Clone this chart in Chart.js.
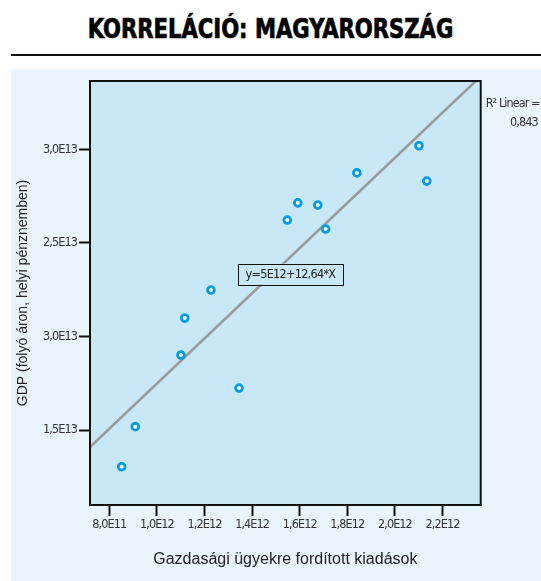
<!DOCTYPE html>
<html>
<head>
<meta charset="utf-8">
<script src="https://cdn.jsdelivr.net/npm/chart.js@4.4.0/dist/chart.umd.min.js"></script>
<style>
  html, body { margin: 0; padding: 0; background: #fff; }
  body { width: 541px; height: 581px; position: relative; overflow: hidden; }
  #cim {
    position: absolute; left: 0; top: 11px; width: 541px; text-align: center;
    font-family: "DejaVu Sans Condensed", "Liberation Sans Narrow", sans-serif;
    font-weight: bold; font-size: 27px; line-height: 36px; color: #000;
    -webkit-text-stroke: 0.7px #000;
    transform: scaleX(0.87); transform-origin: 270.5px 0;
  }
  #vonal { position: absolute; left: 11px; top: 54px; width: 530px; height: 2px; background: #111; }
  #panel { position: absolute; left: 11px; top: 69px; width: 530px; height: 512px; background: #eaf4fb; }
  canvas { position: absolute; left: 0; top: 0; }
</style>
</head>
<body>
<div id="cim">KORRELÁCIÓ: MAGYARORSZÁG</div>
<div id="vonal"></div>
<div id="panel"><canvas id="grafikon" width="530" height="512"></canvas></div>
<script>
// Adatok (leolvasva az ábráról)
const kiadasok = [0.852e12, 0.909e12, 1.101e12, 1.117e12, 1.227e12, 1.345e12, 1.548e12,
                  1.592e12, 1.676e12, 1.709e12, 1.840e12, 2.101e12, 2.134e12];
const gdp = [1.304e13, 1.518e13, 1.901e13, 2.098e13, 2.248e13, 1.724e13, 2.622e13,
             2.714e13, 2.702e13, 2.574e13, 2.874e13, 3.019e13, 2.830e13];

// Illesztett egyenes végpontjai
const egyenesX = [0.719e12, 2.340e12];
const egyenesY = [1.409e13, 3.365e13];

// Tengelyek
const xTickErtekek = [0.8e12, 1.0e12, 1.2e12, 1.4e12, 1.6e12, 1.8e12, 2.0e12, 2.2e12];
const xTickCimkek = ['8,0E11', '1,0E12', '1,2E12', '1,4E12', '1,6E12', '1,8E12', '2,0E12', '2,2E12'];
const yTickErtekek = [1.5e13, 2.0e13, 2.5e13, 3.0e13];
const yTickCimkek = ['1,5E13', '3,0E13', '2,5E13', '3,0E13'];

const egyenlet = 'y=5E12+12,64*X';
const r2Szoveg = ['R\u00b2 Linear =', '0,843'];
const egyenletHely = { x: 1.561e12, y: 2.333e13 };

const keskeny = '"DejaVu Sans Condensed", "Liberation Sans Narrow", sans-serif';

const pontok = kiadasok.map((x, i) => ({ x: x, y: gdp[i] }));
const egyenes = egyenesX.map((x, i) => ({ x: x, y: egyenesY[i] }));

// Háttér, keret, feliratok
const rajzolo = {
  id: 'rajzolo',
  beforeDraw(chart) {
    chart.ctx.letterSpacing = '0px';
  },
  beforeDatasetsDraw(chart) {
    const { ctx, chartArea: a } = chart;
    ctx.save();
    ctx.fillStyle = '#c8e7f7';
    ctx.fillRect(a.left, a.top, a.right - a.left, a.bottom - a.top);
    ctx.restore();
  },
  afterDatasetsDraw(chart) {
    const { ctx, chartArea: a, scales } = chart;
    ctx.save();
    // egyenlet doboz
    ctx.font = '12.5px ' + keskeny;
    ctx.letterSpacing = '-0.7px';
    const cx = scales.x.getPixelForValue(egyenletHely.x);
    const cy = scales.y.getPixelForValue(egyenletHely.y);
    const w = 105, h = 21;
    ctx.fillStyle = '#c8e7f7';
    ctx.fillRect(cx - w / 2, cy - h / 2, w, h);
    ctx.strokeStyle = '#111';
    ctx.lineWidth = 1;
    ctx.strokeRect(Math.round(cx - w / 2) + 0.5, Math.round(cy - h / 2) + 0.5, w, h);
    ctx.fillStyle = '#222';
    ctx.textAlign = 'center';
    ctx.textBaseline = 'middle';
    ctx.fillText(egyenlet, cx, cy + 1);
    // keret
    ctx.strokeStyle = '#111';
    ctx.lineWidth = 2;
    ctx.strokeRect(a.left, a.top, a.right - a.left, a.bottom - a.top);
    // R2
    ctx.letterSpacing = '-0.9px';
    ctx.fillStyle = '#333';
    ctx.textAlign = 'left';
    ctx.fillText(r2Szoveg[0], a.right + 5, a.top + 23);
    ctx.textAlign = 'right';
    ctx.fillText(r2Szoveg[1], a.right + 57, a.top + 42);
    ctx.restore();
    // keskenyebb tengelyfeliratok
    ctx.letterSpacing = '-0.9px';
  },
  afterDraw(chart) {
    chart.ctx.letterSpacing = '0px';
  }
};

new Chart(document.getElementById('grafikon'), {
  type: 'scatter',
  data: {
    datasets: [
      {
        label: 'Linear',
        type: 'line',
        data: egyenes,
        borderColor: '#9a9a9a',
        borderWidth: 2.5,
        pointRadius: 0,
        fill: false,
        order: 2
      },
      {
        label: 'Megfigyelt',
        data: pontok,
        pointRadius: 3.4,
        pointBorderWidth: 2.8,
        pointBorderColor: '#069de0',
        pointBackgroundColor: '#ffffff',
        order: 1
      }
    ]
  },
  options: {
    responsive: false,
    animation: false,
    devicePixelRatio: 1,
    layout: { padding: { top: 12, right: 60.3, left: 0, bottom: 0 } },
    plugins: {
      legend: { display: false },
      tooltip: { enabled: false }
    },
    scales: {
      x: {
        type: 'linear',
        min: 0.7189e12,
        max: 2.3605e12,
        afterFit(s) { s.height = 76; },
        afterBuildTicks(s) { s.ticks = xTickErtekek.map(v => ({ value: v })); },
        ticks: {
          z: 1,
          padding: 1,
          color: '#333',
          font: { family: keskeny, size: 12.5 },
          callback: (v) => xTickCimkek[xTickErtekek.indexOf(v)],
          maxRotation: 0,
          autoSkip: false
        },
        grid: { drawOnChartArea: false, tickLength: 11, tickColor: '#111', tickWidth: 2 },
        border: { display: true, color: '#111', width: 2 },
        title: {
          display: true,
          text: 'Gazdasági ügyekre fordított kiadások',
          color: '#222',
          font: { family: '"Liberation Sans", Arial, sans-serif', size: 16 },
          padding: { top: 0, bottom: 12.3 }
        }
      },
      y: {
        type: 'linear',
        min: 1.0994e13,
        max: 3.365e13,
        afterFit(s) { s.width = 79; },
        afterBuildTicks(s) { s.ticks = yTickErtekek.map(v => ({ value: v })); },
        ticks: {
          z: 1,
          padding: 2,
          color: '#333',
          font: { family: keskeny, size: 12.5 },
          callback: (v) => yTickCimkek[yTickErtekek.indexOf(v)],
          autoSkip: false
        },
        grid: { drawOnChartArea: false, tickLength: 11, tickColor: '#111', tickWidth: 2 },
        border: { display: true, color: '#111', width: 2 },
        title: {
          display: true,
          text: 'GDP (folyó áron, helyi pénznemben)',
          color: '#222',
          font: { family: '"Liberation Sans", Arial, sans-serif', size: 14 },
          padding: { top: 3.3, bottom: 0 }
        }
      }
    }
  },
  plugins: [rajzolo]
});
</script>
</body>
</html>
